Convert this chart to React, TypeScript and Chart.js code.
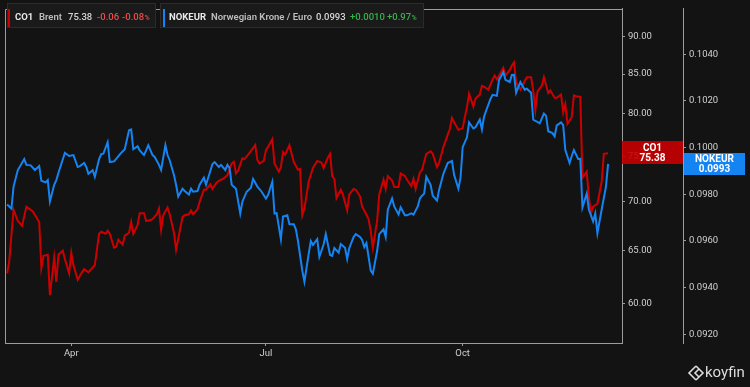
import React, { useEffect, useRef } from "react";
import { Chart, registerables } from "chart.js";

Chart.register(...registerables);

// Day of year (2021) for each CO1 (Brent) close
const co1Days = [
  61, 62, 64, 66, 68, 70, 73, 76, 77, 78, 80, 81, 83, 84, 85, 87, 88, 90, 91, 92, 94, 96, 97, 99, 102, 104, 105, 107, 108, 109,
  111, 112, 113, 115, 116, 118, 119, 120, 122, 123, 125, 126, 128, 129, 131, 132, 133, 134, 136, 137, 139, 140, 143, 144, 146, 147, 148, 150,
  151, 153, 154, 156, 157, 159, 161, 162, 164, 166, 167, 168, 169, 171, 172, 174, 177, 178, 179, 181, 182, 183, 185, 186, 188, 189, 190,
  191, 193, 195, 197, 198, 199, 200, 202, 204, 205, 206, 208, 209, 211, 212, 213, 214, 215, 217, 218, 220, 221, 223, 224, 226, 227, 228,
  230, 231, 232, 234, 235, 237, 238, 239, 241, 242, 244, 245, 247, 248, 250, 251, 252, 254, 255, 257, 259, 260, 262, 263, 265, 267, 268,
  269, 270, 272, 274, 275, 276, 277, 279, 280, 282, 283, 284, 286, 288, 289, 290, 291, 293, 294, 296, 297, 298, 299, 301, 302, 303, 304,
  306, 307, 308, 309, 311, 312, 314, 315, 317, 318, 320, 321, 322, 323, 325, 326, 327, 329, 330, 332, 333, 334, 335, 337, 339, 340, 342,
];
const co1Values = [
  62.8, 64.0, 69.2, 68.0, 67.5, 69.5, 69.0, 67.9, 63.3, 64.5, 64.6, 60.75, 64.3, 62.0, 64.6, 65.0, 64.2, 62.8, 64.8, 63.6, 62.2, 62.9, 63.2, 62.9, 63.6, 66.7, 66.9, 66.7, 67.0, 66.7,
  65.3, 65.4, 66.1, 65.6, 66.5, 66.8, 67.9, 66.7, 67.6, 68.8, 68.8, 68.0, 68.1, 68.2, 68.7, 69.3, 67.1, 68.6, 69.4, 68.7, 66.8, 65.1, 68.4, 68.6, 68.7, 69.1, 68.7, 69.2,
  70.0, 71.3, 71.3, 71.9, 71.4, 72.1, 72.4, 72.5, 72.9, 74.2, 74.4, 73.1, 73.4, 74.8, 74.7, 75.3, 76.3, 74.6, 74.2, 74.5, 75.7, 76.1, 77.0, 74.2, 73.3, 73.8, 75.5,
  75.2, 76.3, 74.4, 73.5, 73.6, 68.6, 69.3, 72.2, 73.7, 74.1, 74.5, 74.3, 73.7, 74.9, 75.3, 72.8, 72.5, 70.4, 71.3, 70.8, 69.1, 70.8, 71.4, 71.3, 70.6, 69.5, 69.1,
  68.2, 67.0, 65.3, 68.0, 70.8, 72.4, 71.4, 72.8, 72.3, 71.6, 71.6, 73.1, 72.8, 72.4, 71.7, 72.5, 71.4, 73.2, 73.5, 75.3, 75.6, 75.3, 73.8, 74.3, 76.1, 77.5, 78.2,
  79.5, 79.0, 78.1, 78.3, 79.6, 80.8, 82.5, 80.9, 81.9, 82.4, 83.5, 83.4, 83.0, 84.3, 84.8, 84.3, 84.8, 85.8, 84.8, 85.5, 86.1, 86.5, 83.9, 83.0, 83.5, 84.1, 84.6,
  84.6, 82.9, 80.5, 82.8, 83.5, 84.6, 82.6, 82.9, 82.0, 82.0, 82.4, 80.2, 81.2, 78.8, 79.6, 82.3, 82.2, 82.1, 72.6, 73.3, 70.6, 68.8, 69.5, 69.8, 72.2, 75.3, 75.38,
];

// Day of year (2021) for each NOKEUR close
const nokDays = [
  61, 63, 64, 66, 69, 70, 72, 74, 76, 77, 79, 80, 81, 83, 84, 85, 88, 90, 92, 94, 95, 97, 98, 99, 101, 102, 104, 105, 106, 108, 109,
  111, 112, 114, 116, 118, 119, 120, 122, 123, 125, 126, 127, 129, 130, 132, 133, 135, 136, 137, 139, 140, 141, 143, 144, 146, 147, 148, 150,
  151, 153, 154, 156, 157, 158, 160, 161, 163, 164, 165, 166, 168, 170, 171, 173, 175, 176, 178, 180, 182, 183, 185, 186, 187, 189, 190,
  192, 193, 195, 196, 197, 199, 200, 202, 203, 204, 206, 207, 209, 210, 212, 213, 214, 216, 217, 219, 220, 221, 223, 224, 226, 227, 228, 229,
  231, 232, 234, 235, 237, 238, 239, 241, 242, 244, 245, 247, 248, 250, 251, 253, 254, 255, 256, 257, 259, 260, 262, 263, 265, 267, 269,
  270, 271, 272, 273, 274, 276, 277, 279, 280, 282, 283, 284, 285, 287, 288, 290, 291, 293, 294, 296, 297, 298, 299, 301, 303, 304, 306,
  307, 308, 310, 312, 313, 314, 316, 317, 318, 320, 321, 322, 324, 325, 326, 328, 329, 330, 332, 333, 335, 336, 337, 339, 341, 342,
];
const nokValues = [
  0.09756, 0.09739, 0.09833, 0.09904, 0.09951, 0.09926, 0.09924, 0.09904, 0.09921, 0.09858, 0.09851, 0.09861, 0.09769, 0.09841, 0.09861, 0.09892, 0.09977, 0.09964, 0.09968, 0.09917, 0.09921, 0.09934, 0.09917, 0.09888, 0.09903, 0.09875, 0.09951, 0.09972, 0.09974, 0.10023, 0.09938,
  0.09941, 0.09952, 0.09974, 0.09993, 0.10074, 0.10078, 0.09993, 0.10006, 0.09988, 0.09968, 0.09988, 0.1001, 0.09968, 0.0996, 0.09926, 0.09904, 0.1001, 0.09968, 0.09946, 0.09883, 0.09841, 0.0979, 0.09824, 0.09814, 0.09799, 0.09824, 0.09811, 0.09814,
  0.09841, 0.09871, 0.09841, 0.099, 0.0993, 0.09938, 0.09917, 0.09926, 0.09904, 0.09926, 0.09913, 0.09841, 0.09824, 0.09718, 0.09769, 0.09811, 0.09828, 0.09866, 0.09833, 0.09811, 0.09782, 0.09797, 0.09854, 0.09718, 0.09719, 0.09608, 0.09705,
  0.0971, 0.09672, 0.09672, 0.0965, 0.096, 0.09473, 0.09426, 0.09545, 0.096, 0.09583, 0.09608, 0.09532, 0.09586, 0.09629, 0.0954, 0.09536, 0.0957, 0.0955, 0.09587, 0.09571, 0.09523, 0.0957, 0.09617, 0.09629, 0.09617, 0.09604, 0.09574, 0.09591,
  0.09473, 0.0946, 0.09557, 0.09629, 0.0965, 0.09617, 0.09735, 0.09782, 0.09748, 0.09714, 0.09744, 0.0971, 0.0971, 0.09718, 0.09713, 0.09748, 0.09782, 0.09794, 0.09803, 0.09875, 0.09841, 0.09794, 0.09773, 0.0982, 0.09888, 0.09934, 0.09943,
  0.09883, 0.09854, 0.09824, 0.09871, 0.10002, 0.10044, 0.10108, 0.10082, 0.10087, 0.1012, 0.10078, 0.10133, 0.10159, 0.10209, 0.10226, 0.10222, 0.1029, 0.10324, 0.1029, 0.10281, 0.10311, 0.10312, 0.10235, 0.10281, 0.10248, 0.10252, 0.10235,
  0.1012, 0.10115, 0.10104, 0.10146, 0.10136, 0.1007, 0.10062, 0.10048, 0.10095, 0.10108, 0.10096, 0.09989, 0.09934, 0.09964, 0.09989, 0.09951, 0.09952, 0.09744, 0.09803, 0.09735, 0.09684, 0.09718, 0.09633, 0.09735, 0.09833, 0.0993,
];

const xTickDays = [91, 182, 274];
const xTickLabels = ["Apr", "Jul", "Oct"];
const co1Ticks = [60, 65, 70, 75, 80, 85, 90];
const nokTicks = [0.092, 0.094, 0.096, 0.098, 0.1, 0.102, 0.104];

const BG = "#131313";
const RED = "#cc0000";
const BLUE = "#1584f3";
const AXIS = "#9c9c9c";
const TICK_TEXT = "#d0d0d0";
const FONT = "Roboto, 'Noto Sans', sans-serif";

const decorPlugin = {
  id: "decor",
  beforeDraw(chart: any) {
    const ctx = chart.ctx;
    ctx.save();
    ctx.fillStyle = BG;
    ctx.fillRect(0, 0, chart.width, chart.height);
    ctx.restore();
  },
  afterDraw(chart: any) {
    const { ctx, chartArea: a, scales } = chart;
    ctx.save();
    // frame left & top
    ctx.strokeStyle = AXIS;
    ctx.lineWidth = 1;
    ctx.beginPath();
    ctx.moveTo(Math.round(a.left) + 0.5, a.bottom);
    ctx.lineTo(Math.round(a.left) + 0.5, Math.round(a.top) + 0.5);
    ctx.lineTo(a.right, Math.round(a.top) + 0.5);
    ctx.stroke();

    // value tags on the axes
    const co1Last = co1Values[co1Values.length - 1];
    const nokLast = nokValues[nokValues.length - 1];
    const yc = scales.yCo1.getPixelForValue(co1Last);
    const yn = scales.yNok.getPixelForValue(nokLast);
    ctx.fillStyle = "rgba(200,0,0,0.9)";
    ctx.fillRect(scales.yCo1.left, Math.round(yc - 12), scales.yCo1.right - scales.yCo1.left, 23);
    ctx.fillStyle = BLUE;
    ctx.fillRect(scales.yNok.left + 1, Math.round(yn - 11), 61, 22);
    ctx.fillStyle = "#ffffff";
    ctx.textAlign = "center";
    ctx.textBaseline = "middle";
    ctx.font = `bold 10px ${FONT}`;
    const cx = (scales.yCo1.left + scales.yCo1.right) / 2;
    ctx.fillText("CO1", cx, yc - 4.5);
    ctx.fillText(co1Last.toFixed(2), cx, yc + 5);
    const nx = scales.yNok.left + 31.5;
    ctx.fillText("NOKEUR", nx, yn - 4);
    ctx.fillText(nokLast.toFixed(4), nx, yn + 5.5);

    // legend boxes
    ctx.textAlign = "left";
    const box = (x: number, w: number) => {
      ctx.fillStyle = "#1a1a1a";
      ctx.fillRect(x, 3, w, 25);
      ctx.strokeStyle = "#2b2b2b";
      ctx.strokeRect(x + 0.5, 3.5, w - 1, 24);
    };
    box(7, 149);
    box(160, 264);
    ctx.fillStyle = RED;
    ctx.fillRect(8, 9, 2, 18);
    ctx.fillStyle = BLUE;
    ctx.fillRect(163, 9, 2, 18);
    const t = (s: string, x: number, color: string, weight = 500, size = 9.5) => {
      ctx.font = `${weight} ${size}px ${FONT}`;
      ctx.fillStyle = color;
      ctx.fillText(s, x, 18);
      return x + ctx.measureText(s).width;
    };
    t("CO1", 15, "#e8e8e8", 700);
    t("Brent", 39, "#bdbdbd", 600);
    t("75.38", 68, "#d6d6d6", 500);
    t("-0.06", 97, "#f04b4b", 500);
    let e = t("-0.08", 122, "#f04b4b", 500);
    t("%", e + 0.5, "#f04b4b", 500, 7);
    t("NOKEUR", 169, "#e8e8e8", 700);
    t("Norwegian Krone / Euro", 211, "#bdbdbd", 600);
    t("0.0993", 316, "#d6d6d6", 500);
    t("+0.0010", 350, "#34b34a", 500);
    e = t("+0.97", 387, "#34b34a", 500);
    t("%", e + 0.5, "#34b34a", 500, 7);

    // koyfin logo
    ctx.strokeStyle = "#dcdcdc";
    ctx.lineWidth = 1.6;
    ctx.beginPath();
    ctx.moveTo(696, 366);
    ctx.lineTo(689, 373);
    ctx.lineTo(696, 380);
    ctx.moveTo(699, 369);
    ctx.lineTo(695, 373);
    ctx.lineTo(699, 377);
    ctx.moveTo(696, 366);
    ctx.lineTo(703, 373);
    ctx.lineTo(696, 380);
    ctx.stroke();
    ctx.fillStyle = "#dcdcdc";
    ctx.font = `400 15px ${FONT}`;
    ctx.textBaseline = "middle";
    ctx.fillText("koyfin", 705, 373);
    ctx.restore();
  },
};

export default function App() {
  const ref = useRef<HTMLCanvasElement | null>(null);
  useEffect(() => {
    document.body.style.margin = "0";
    document.body.style.background = BG;
    const canvas = ref.current!;
    const chart = new Chart(canvas, {
      type: "line",
      data: {
        datasets: [
          {
            label: "CO1",
            data: co1Days.map((d, i) => ({ x: d, y: co1Values[i] })),
            borderColor: RED,
            borderWidth: 2,
            pointRadius: 0,
            tension: 0,
            order: 1,
            yAxisID: "yCo1",
          },
          {
            label: "NOKEUR",
            data: nokDays.map((d, i) => ({ x: d, y: nokValues[i] })),
            borderColor: BLUE,
            borderWidth: 2,
            pointRadius: 0,
            tension: 0,
            order: 0,
            yAxisID: "yNok",
          },
        ],
      },
      options: {
        responsive: false,
        animation: false,
        devicePixelRatio: 1,
        layout: { padding: { left: 5, top: 5, right: 0, bottom: 24 } },
        plugins: { legend: { display: false }, tooltip: { enabled: false } },
        scales: {
          x: {
            type: "linear",
            position: "bottom",
            min: 60,
            max: 348.5,
            afterBuildTicks: (s: any) => {
              s.ticks = xTickDays.map((v) => ({ value: v }));
            },
            afterFit: (s: any) => {
              s.height = 20;
            },
            ticks: {
              autoSkip: false,
              maxRotation: 0,
              padding: 2,
              color: TICK_TEXT,
              font: { family: FONT, size: 9.5 },
              callback: (v: any) => xTickLabels[xTickDays.indexOf(Number(v))],
            },
            grid: { drawOnChartArea: false, drawTicks: true, tickLength: 3, color: AXIS },
            border: { display: true, color: AXIS },
          },
          yCo1: {
            type: "logarithmic",
            position: "right",
            weight: 0,
            min: 56.5,
            max: 93.87,
            afterBuildTicks: (s: any) => {
              s.ticks = co1Ticks.map((v) => ({ value: v }));
            },
            afterFit: (s: any) => {
              s.width = 61;
            },
            ticks: {
              padding: 3,
              color: TICK_TEXT,
              font: { family: FONT, size: 9.5 },
              callback: (v: any) => Number(v).toFixed(2),
            },
            grid: { drawOnChartArea: false, drawTicks: true, tickLength: 3, color: AXIS },
            border: { display: true, color: AXIS },
          },
          yNok: {
            type: "linear",
            position: "right",
            weight: 1,
            min: 0.09163,
            max: 0.10595,
            afterBuildTicks: (s: any) => {
              s.ticks = nokTicks.map((v) => ({ value: v }));
            },
            afterFit: (s: any) => {
              s.width = 67;
            },
            ticks: {
              padding: 3,
              color: TICK_TEXT,
              font: { family: FONT, size: 9.5 },
              callback: (v: any) => Number(v).toFixed(4),
            },
            grid: { drawOnChartArea: false, drawTicks: true, tickLength: 3, color: AXIS },
            border: { display: true, color: AXIS },
          },
        },
      } as any,
      plugins: [decorPlugin],
    });
    return () => chart.destroy();
  }, []);
  return (
    <div style={{ position: "fixed", left: 0, top: 0, width: 750, height: 387, background: BG }}>
      <canvas ref={ref} width={750} height={387} style={{ width: 750, height: 387, display: "block" }} />
    </div>
  );
}
